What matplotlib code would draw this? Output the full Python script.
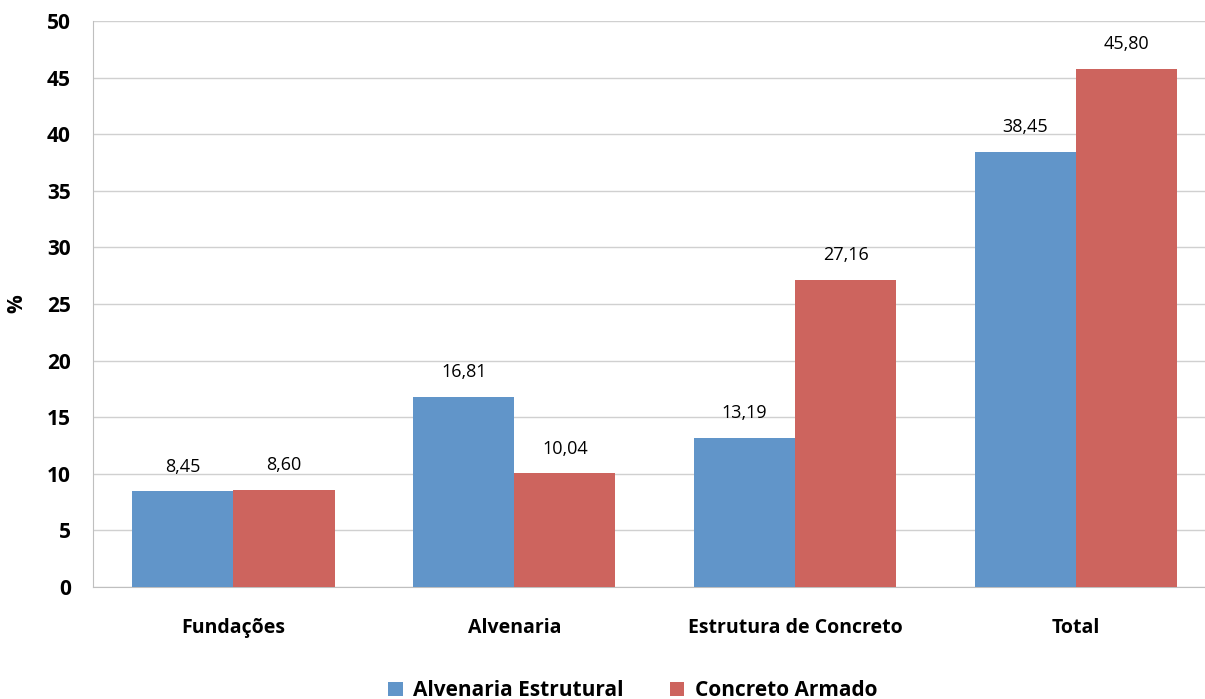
import numpy as np
import matplotlib
matplotlib.use('Agg')
import matplotlib.pyplot as plt

categories = ['Fundações', 'Alvenaria', 'Estrutura de Concreto', 'Total']
alvenaria_estrutural = [8.45, 16.81, 13.19, 38.45]
concreto_armado = [8.60, 10.04, 27.16, 45.80]
series_names = ['Alvenaria Estrutural', 'Concreto Armado']
colors = ['#6195C9', '#CD645E']

plt.rcParams['font.family'] = ['Open Sans', 'DejaVu Sans']

fig = plt.figure(figsize=(12.05, 6.99), dpi=100)
ax = fig.add_axes([0.0772, 0.1602, 0.9323, 0.8098])

x = np.arange(len(categories))
w = 0.36
b1 = ax.bar(x - w / 2, alvenaria_estrutural, w, color=colors[0], label=series_names[0], zorder=3)
b2 = ax.bar(x + w / 2, concreto_armado, w, color=colors[1], label=series_names[1], zorder=3)

for bars, vals in ((b1, alvenaria_estrutural), (b2, concreto_armado)):
    for bar, v in zip(bars, vals):
        ax.annotate(f'{v:.2f}'.replace('.', ','),
                    (bar.get_x() + bar.get_width() / 2, bar.get_height()),
                    xytext=(0, 11), textcoords='offset points',
                    ha='center', va='bottom', fontsize=13)

ax.set_xlim(-0.5, 3.5)
ax.set_ylim(0, 50)
ax.set_yticks(range(0, 51, 5))
ax.set_xticks(x)
ax.set_xticklabels(categories, fontsize=14, fontweight='bold')
for lbl in ax.get_yticklabels():
    lbl.set_fontsize(15)
    lbl.set_fontweight('bold')
ax.tick_params(axis='y', length=0, pad=16)
ax.tick_params(axis='x', length=0, pad=22)
ax.grid(axis='y', color='#D0D0D0', linewidth=1, zorder=0)

for s in ['top', 'right']:
    ax.spines[s].set_visible(False)
for s in ['left', 'bottom']:
    ax.spines[s].set_color('#BFBFBF')

ax.set_ylabel('%', fontsize=15, fontweight='bold', labelpad=14)

fig.legend(loc='center', bbox_to_anchor=(0.525, 0.012), ncol=2, frameon=False,
           prop={'size': 15, 'weight': 'bold'}, handlelength=0.7, handleheight=0.7,
           columnspacing=2.2, handletextpad=0.5)

fig.savefig('out.png', dpi=100)
